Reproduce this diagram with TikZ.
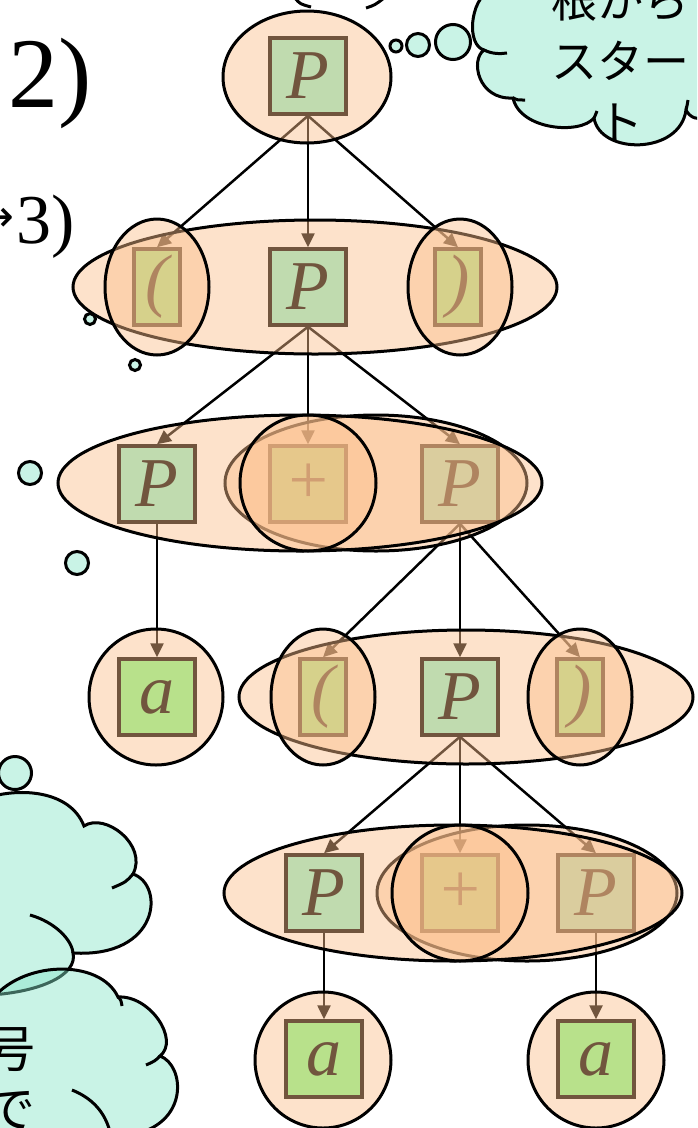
\documentclass[tikz,border=0pt]{standalone}
\usepackage{fontspec}
\setmainfont{Liberation Serif}
\newfontfamily\jpfont{Noto Sans CJK JP}
\newfontfamily\symfont{DejaVu Sans}
\usetikzlibrary{arrows.meta,shapes.geometric}
\definecolor{peach}{RGB}{251,190,139}
\definecolor{ntfill}{RGB}{145,244,206}
\definecolor{tfill}{RGB}{130,255,140}
\definecolor{mint}{RGB}{135,228,200}

\begin{document}
\begin{tikzpicture}[x=1pt,y=-1pt,
  sym/.style={draw=black, line width=3.5pt, minimum height=76pt, inner sep=0pt,
              font=\fontsize{70}{70}\selectfont\itshape},
  nt/.style={sym, fill=ntfill, minimum width=76pt},
  tm/.style={sym, fill=tfill, minimum width=76pt},
  paren/.style={sym, fill=tfill, minimum width=46pt},
  grp/.style={ellipse, draw=black, line width=3pt, fill=peach,
              fill opacity=0.45, draw opacity=1, inner sep=0pt},
  link/.style={line width=2.5pt, -{Triangle[length=14pt,width=13pt]}},
  bubble/.style={circle, draw=black, line width=3pt, fill=mint,
                 fill opacity=0.45, draw opacity=1, inner sep=0pt},
  cloudfill/.style={draw=black, line width=3pt, fill=mint,
                    fill opacity=0.45, draw opacity=1},
  tick/.style={draw=black, line width=3pt},
]
\useasboundingbox (0,0) rectangle (697,1128);
\clip (0,0) rectangle (697,1128);

% ---- symbols of the parse tree ----
\node[nt] (r) at (308,76) {P};

\node[paren] (a1) at (157,287) {(};
\node[nt]    (b1) at (308,287) {P};
\node[paren] (c1) at (458,287) {)};

\node[nt] (a2) at (157,484) {P};
\node[tm] (b2) at (308,484) {+};
\node[nt] (c2) at (460,484) {P};

\node[tm]    (a3) at (157,697) {a};
\node[paren] (b3) at (323,697) {(};
\node[nt]    (c3) at (460,697) {P};
\node[paren] (d3) at (580,697) {)};

\node[nt] (a4) at (324,893) {P};
\node[tm] (b4) at (460,893) {+};
\node[nt] (c4) at (596,893) {P};

\node[tm] (a5) at (324,1059) {a};
\node[tm] (b5) at (596,1059) {a};

% ---- derivation edges ----
\draw[link] (r.south) -- (a1.north);
\draw[link] (r.south) -- (b1.north);
\draw[link] (r.south) -- (c1.north);
\draw[link] (b1.south) -- (a2.north);
\draw[link] (b1.south) -- (b2.north);
\draw[link] (b1.south) -- (c2.north);
\draw[link] (a2.south) -- (a3.north);
\draw[link] (c2.south) -- (b3.north);
\draw[link] (c2.south) -- (c3.north);
\draw[link] (c2.south) -- (d3.north);
\draw[link] (c3.south) -- (a4.north);
\draw[link] (c3.south) -- (b4.north);
\draw[link] (c3.south) -- (c4.north);
\draw[link] (a4.south) -- (a5.north);
\draw[link] (c4.south) -- (b5.north);

% ---- translucent groupings ----
\node[grp, minimum width=168pt, minimum height=132pt] (e0) at (307,77) {};

\node[grp, minimum width=484pt, minimum height=134pt] (e1)  at (315,287) {};
\node[grp, minimum width=104pt, minimum height=136pt] (e1a) at (157,287) {};
\node[grp, minimum width=104pt, minimum height=136pt] (e1c) at (460,287) {};

\node[grp, minimum width=302pt, minimum height=136pt] (e2s) at (376,483) {};
\node[grp, minimum width=484pt, minimum height=136pt] (e2)  at (300,483) {};
\node[grp, minimum width=136pt, minimum height=136pt] (e2c) at (308,483) {};

\node[grp, minimum width=134pt, minimum height=136pt] (e3a) at (156,697) {};
\node[grp, minimum width=454pt, minimum height=134pt] (e3)  at (466,697) {};
\node[grp, minimum width=104pt, minimum height=136pt] (e3b) at (323,697) {};
\node[grp, minimum width=104pt, minimum height=136pt] (e3d) at (580,697) {};

\node[grp, minimum width=300pt, minimum height=136pt] (e4s) at (527,893) {};
\node[grp, minimum width=458pt, minimum height=136pt] (e4)  at (453,893) {};
\node[grp, minimum width=136pt, minimum height=136pt] (e4c) at (460,893) {};

\node[grp, minimum width=136pt, minimum height=136pt] (e5a) at (323,1060) {};
\node[grp, minimum width=136pt, minimum height=136pt] (e5b) at (596,1060) {};

% ---- thought bubbles ----
\node[bubble, minimum size=12pt] (t1) at (396,46) {};
\node[bubble, minimum size=23pt] (t2) at (418,45) {};
\node[bubble, minimum size=35pt] (t3) at (453,42) {};

\node[bubble, minimum size=11pt] (s1) at (90,319) {};
\node[bubble, minimum size=11pt] (s2) at (135,365) {};
\node[bubble, minimum size=23pt] (s3) at (30,473) {};
\node[bubble, minimum size=23pt] (s4) at (77,563) {};
\node[bubble, minimum size=33pt] (s5) at (15,773) {};

% top-right cloud
\path[cloudfill] (490,-10)
  .. controls (470,0) and (466,45) .. (484,50)
  .. controls (470,60) and (478,100) .. (513,98)
  .. controls (520,130) and (580,135) .. (594,118)
  .. controls (600,155) and (680,155) .. (686,110)
  .. controls (690,118) and (698,120) .. (705,118)
  -- (705,-10) -- cycle;
\draw[tick] (484,50) .. controls (492,54) and (500,54) .. (507,53);
\draw[tick] (513,98) .. controls (517,100) .. (525,100);
\draw[tick] (594,118) .. controls (595,116) .. (597,111);
\draw[tick] (686,110) .. controls (687,106) .. (688,100);

% lower-left clouds
\path[cloudfill] (-10,797)
  .. controls (20,788) and (70,790) .. (84,826)
  .. controls (105,812) and (148,845) .. (133,874)
  .. controls (165,885) and (160,958) .. (73,953)
  .. controls (78,975) and (40,992) .. (-10,995)
  -- cycle;
\draw[tick] (133,874) .. controls (126,882) .. (112,888);
\draw[tick] (30,915) .. controls (55,922) and (72,940) .. (73,953);

\path[cloudfill] (-10,1002)
  .. controls (20,960) and (100,958) .. (118,997)
  .. controls (150,995) and (180,1040) .. (160,1056)
  .. controls (185,1065) and (190,1125) .. (130,1135)
  -- (-10,1135) -- cycle;
\draw[tick] (118,997) .. controls (121,1000) .. (122,1006);
\draw[tick] (160,1056) .. controls (155,1061) .. (146,1065);
\draw[tick] (72,1090) .. controls (92,1098) and (105,1112) .. (110,1132);

% ---- texts ----
\node[font=\jpfont\fontsize{46}{61}\selectfont, align=center] (say1) at (620,60)
  {根から\\スター\\ト};
\node[font=\jpfont\fontsize{50}{50}\selectfont, inner sep=0pt] (say2) at (11,1050) {号};
\node[font=\jpfont\fontsize{50}{50}\selectfont, inner sep=0pt] (say3) at (11,1110) {で};

\node[anchor=base west, inner sep=0pt, font=\fontsize{100}{100}\selectfont] (lbl2) at (8,107) {2)};
\node[anchor=base east, inner sep=0pt, font=\fontsize{70}{70}\selectfont] (lbl3) at (75,243) {3)};
\node[anchor=east, inner sep=0pt, font=\symfont\fontsize{44}{44}\selectfont] (arr3) at (15,220) {→};

% fragments of outlines at the upper edge
\draw[tick] (295,-2) .. controls (300,4) .. (311,7);
\draw[tick] (366,8) .. controls (375,5) .. (384,-2);
\end{tikzpicture}
\end{document}
